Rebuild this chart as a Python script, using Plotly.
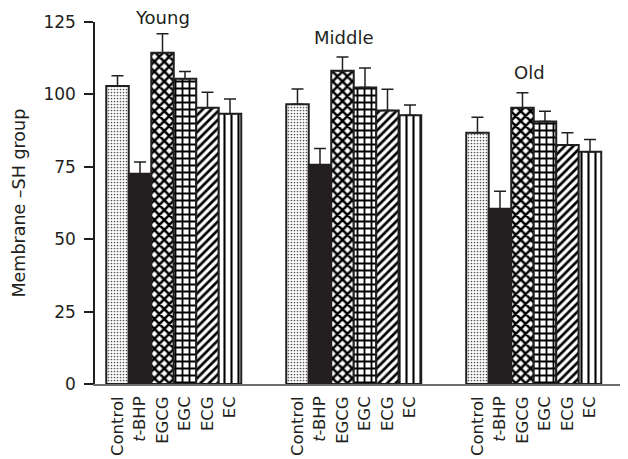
import plotly.graph_objects as go

groups = ["Young", "Middle", "Old"]
treatments = ["Control", "<i>t</i>-BHP", "EGCG", "EGC", "ECG", "EC"]
# values[treatment] = [Young, Middle, Old]
means = {
    "Control": [102.9, 96.6, 86.8],
    "t-BHP":   [72.6, 75.7, 60.5],
    "EGCG":    [114.4, 108.2, 95.4],
    "EGC":     [105.4, 102.4, 90.6],
    "ECG":     [95.4, 94.4, 82.5],
    "EC":      [93.3, 92.8, 80.2],
}
errors = {
    "Control": [3.5, 5.3, 5.3],
    "t-BHP":   [4.1, 5.6, 6.1],
    "EGCG":    [6.5, 4.7, 5.2],
    "EGC":     [2.5, 6.7, 3.6],
    "ECG":     [5.3, 7.4, 4.3],
    "EC":      [5.1, 3.5, 4.2],
}
group_label_y = [126.4, 119.5, 107.7]
group_label_x = [1.99, 10.05, 18.3]
y_max = 125

ink = "#231f20"
patterns = {
    "Control": dict(shape=".", size=3, solidity=0.25, fgcolor="#555555", bgcolor="white", fgopacity=1),
    "t-BHP":   None,
    "EGCG":    dict(shape="x", size=7, solidity=0.6, fgcolor="#000000", bgcolor="white", fgopacity=1),
    "EGC":     dict(shape="+", size=7, solidity=0.45, fgcolor="#000000", bgcolor="white", fgopacity=1),
    "ECG":     dict(shape="/", size=6, solidity=0.45, fgcolor="#000000", bgcolor="white", fgopacity=1),
    "EC":      dict(shape="|", size=7, solidity=0.3, fgcolor="#000000", bgcolor="white", fgopacity=1),
}

keys = list(means.keys())
group_pitch = 8
fig = go.Figure()
tickvals, ticktext = [], []
for i, k in enumerate(keys):
    xs = [g * group_pitch + i for g in range(len(groups))]
    tickvals += xs
    ticktext += [treatments[i]] * len(groups)
    marker = dict(color=ink if k == "t-BHP" else "white",
                  line=dict(color=ink, width=2))
    if patterns[k] is not None:
        marker["pattern"] = patterns[k]
    fig.add_trace(go.Bar(
        x=xs, y=means[k], width=1, marker=marker, name=k, showlegend=False,
        error_y=dict(type="data", array=errors[k], arrayminus=[0] * 3,
                     symmetric=False, color=ink, thickness=1.5, width=6),
    ))

for g, name in enumerate(groups):
    fig.add_annotation(x=group_label_x[g], y=group_label_y[g] / y_max,
                       yref="paper", text=name,
                       showarrow=False, font=dict(size=18, color=ink),
                       xanchor="center", yanchor="middle")

fig.add_annotation(xref="paper", yref="paper", x=-0.1435, y=0.5,
                   text="Membrane \u2013SH group", textangle=-90,
                   showarrow=False, font=dict(size=17.5, color=ink),
                   xanchor="center", yanchor="middle")

# page body has an 8px margin: size and margins compensate for it
fig.update_layout(
    width=620, height=451,
    margin=dict(l=87, r=0, t=14, b=75),
    paper_bgcolor="white", plot_bgcolor="white",
    barmode="overlay",
    font=dict(family="DejaVu Sans", size=17, color=ink),
    xaxis=dict(range=[-1, 22.69], tickvals=tickvals, ticktext=ticktext,
               tickangle=-90, ticks="", showgrid=False, zeroline=False,
               showline=True, linecolor="#6d6d6d", linewidth=1.5,
               ticklabelstandoff=4, automargin=False,
               tickfont=dict(size=16.5)),
    yaxis=dict(range=[0, y_max], tickvals=[0, 25, 50, 75, 100, 125],
               ticks="outside", ticklen=9, tickwidth=1.5, tickcolor=ink,
               showgrid=False, zeroline=False, showline=True,
               linecolor=ink, linewidth=1.5, ticklabelstandoff=5,
               automargin=False),
)

fig.write_html("out.html")
